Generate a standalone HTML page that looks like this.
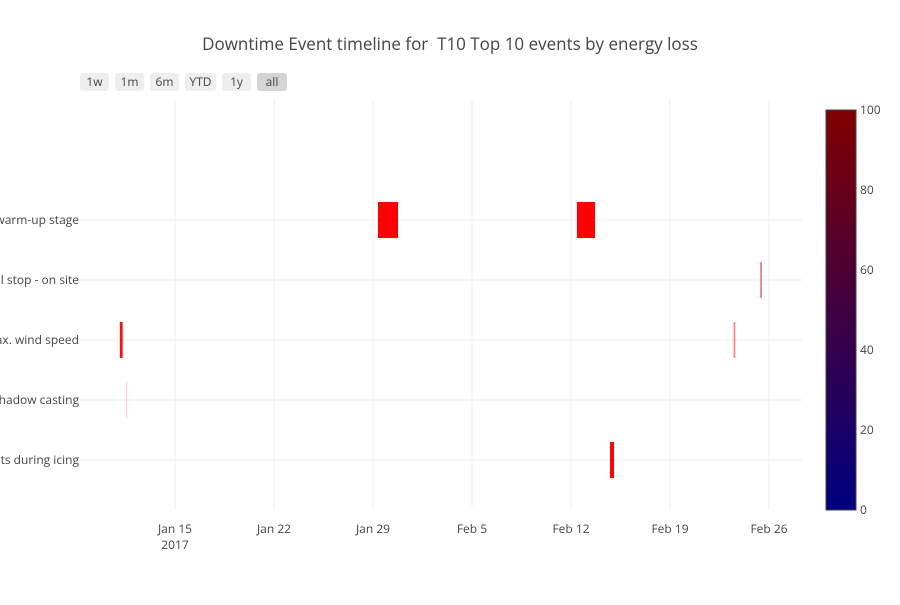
<!DOCTYPE html>
<html><head><meta charset="utf-8"><style>
body{margin:0;background:#fff;font-family:"Open Sans","Liberation Sans",sans-serif;}
svg text{font-family:"Open Sans","Liberation Sans",sans-serif;fill:#444;}
</style></head><body>
<svg id="chart" width="900" height="600" xmlns="http://www.w3.org/2000/svg">
<defs><linearGradient id="cg" x1="0" y1="1" x2="0" y2="0">
<stop offset="0" stop-color="#000080"/><stop offset="0.5" stop-color="#400040"/><stop offset="1" stop-color="#800000"/></linearGradient></defs>
<text x="450" y="50" text-anchor="middle" font-size="17" xml:space="preserve" style="white-space:pre">Downtime Event timeline for  T10 Top 10 events by energy loss</text>
<g id="grid"></g>
<g id="bars"></g>
<g id="ylabels"></g>
<g id="xlabels"></g>
<g id="buttons"></g>
<g>
<rect x="826" y="110" width="30" height="400" fill="url(#cg)" stroke="#444" stroke-width="1"/>
<g id="cbticks"></g></g>
</svg>
<script>
const categories=["events during icing","shadow casting","max. wind speed","manual stop - on site","warm-up stage"];
// events: category index, start day, end day (days since Jan 15 2017), color
const evCat=[4,4,3,2,2,1,0];
const evStart=[14.35,28.42,41.4,-3.9,39.5,-3.45,30.76];
const evEnd=[15.77,29.7,41.48,-3.7,39.62,-3.38,31.04];
const evColor=["#ff0000","#ff0000","#c83a48","#ff1010","#ff8080","#ffc8c8","#ff0000"];
const xTicks=[0,7,14,21,28,35,42];
const xTickLabels=["Jan 15","Jan 22","Jan 29","Feb 5","Feb 12","Feb 19","Feb 26"];
const cbTicks=[0,20,40,60,80,100];
const buttonLabels=["1w","1m","6m","YTD","1y","all"];

const NS="http://www.w3.org/2000/svg";
const X=d=>175+d*99/7;
const Y=i=>460-60*i;
const CB=v=>510-v*4;
function mk(t,a,p){const e=document.createElementNS(NS,t);for(const k in a)e.setAttribute(k,a[k]);p.appendChild(e);return e;}
const grid=document.getElementById('grid');
xTicks.forEach((d,i)=>{
 const l=mk('line',{x1:X(d),x2:X(d),y1:100,y2:510,stroke:'#eee','stroke-width':1},grid);
 
 
 const t=mk('text',{x:X(d),y:533,'text-anchor':'middle','font-size':12},document.getElementById('xlabels'));
 t.textContent=xTickLabels[i];
 
 
});
const yr=mk('text',{x:X(0),y:549,'text-anchor':'middle','font-size':12},document.getElementById('xlabels'));
yr.textContent="2017";


categories.forEach((c,i)=>{
 const l=mk('line',{x1:80,x2:802,y1:Y(i),y2:Y(i),stroke:'#eee','stroke-width':1},grid);
 
 
 const t=mk('text',{x:79,y:Y(i)+4,'text-anchor':'end','font-size':12},document.getElementById('ylabels'));
 t.textContent=c;
 
 
});
evCat.forEach((c,i)=>{
 const x1=X(evStart[i]),x2=X(evEnd[i]);
 const r=mk('rect',{x:x1,y:Y(c)-18,width:Math.max(1,x2-x1),height:36,fill:evColor[i]},document.getElementById('bars'));
 
 
});
let bx=80;
const bw=[29,29,29,31,29,30];
buttonLabels.forEach((b,i)=>{
 const g=mk('g',{},document.getElementById('buttons'));
 
 
 mk('rect',{x:bx,y:73,width:bw[i],height:18,rx:3,fill:i==5?'#d4d4d4':'#eee'},g);
 const t=mk('text',{x:bx+bw[i]/2,y:86,'text-anchor':'middle','font-size':12},g);
 t.textContent=b;
 bx+=bw[i]+6;
});
cbTicks.forEach(v=>{
 const t=mk('text',{x:860,y:CB(v)+4,'font-size':12},document.getElementById('cbticks'));
 t.textContent=v;
 
 
});
</script>
</body></html>
